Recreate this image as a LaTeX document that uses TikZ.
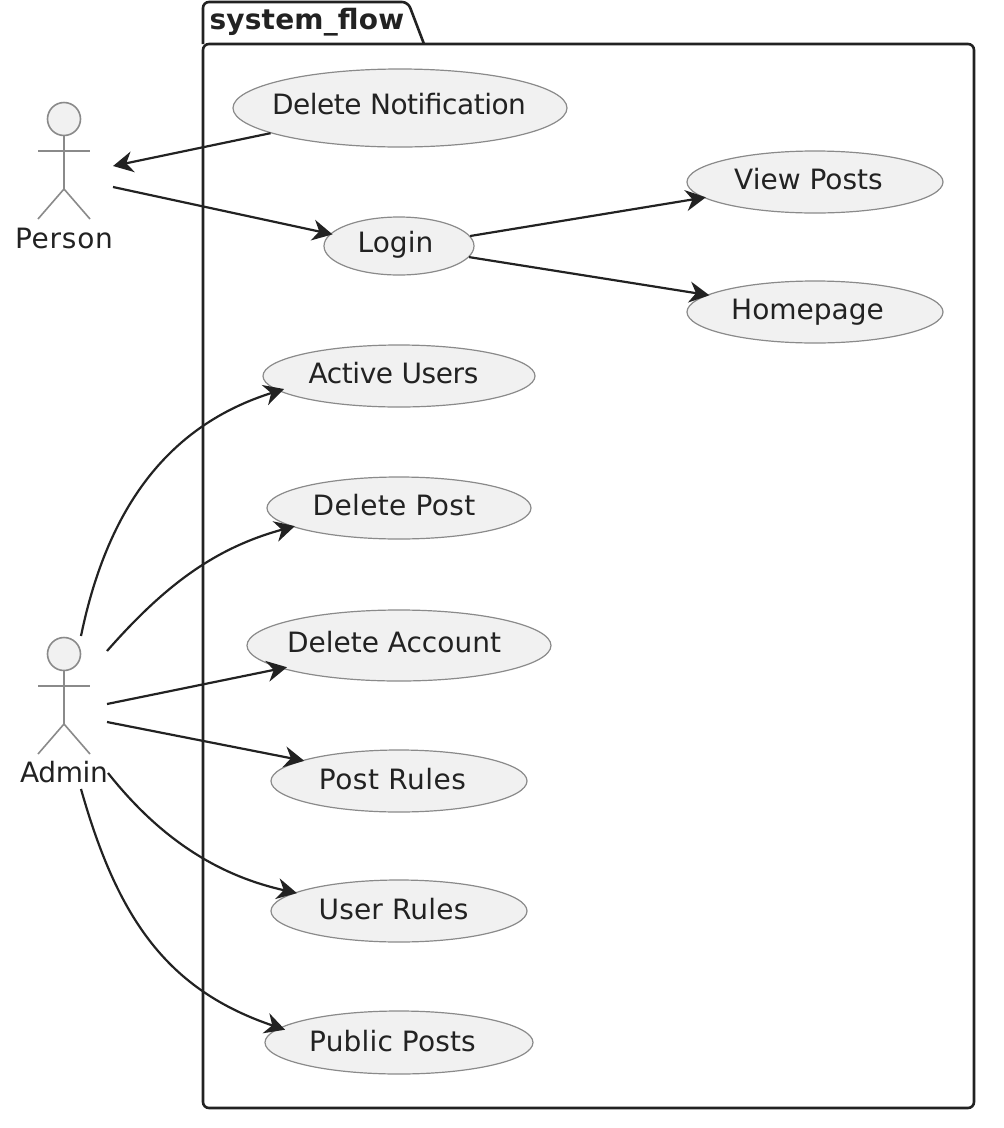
\documentclass[tikz,border=0pt]{standalone}
\usepackage{fontspec}
\setmainfont{DejaVu Sans}
\usetikzlibrary{arrows.meta,shapes.geometric}
\definecolor{inkdark}{HTML}{222222}
\definecolor{usefill}{HTML}{F1F1F1}
\definecolor{usedraw}{HTML}{8A8A8A}
% sideways and upward nudge of a text inside its node, with letter spacing
\newcommand{\nudge}[4]{\raisebox{#2}{\kern#1\relax{\addfontfeature{LetterSpace=#3}#4}\kern-#1\relax}}
\begin{document}
\begin{tikzpicture}[x=1pt,y=-1pt,
	every node/.style={font=\fontsize{28}{34}\selectfont, text=inkdark},
	usecase/.style={ellipse, draw=usedraw, fill=usefill, line width=1.2pt, inner sep=-10pt, text height=20pt, text depth=6pt},
	link/.style={draw=inkdark, line width=2.2pt, shorten >=-2.5pt, -{Stealth[length=20pt,width=21pt,inset=6.5pt]}},
	figure/.style={draw=usedraw, line width=1.6pt}]
	\useasboundingbox (0,0) rectangle (1004,1128);
	% package frame and tab
	\draw[inkdark, line width=2.6pt, rounded corners=6pt] (203,44) -- (203,2) -- (408,2) -- (424,44);
	\draw[inkdark, line width=2.6pt, rounded corners=6pt] (203,44) -- (974,44) -- (974,1108) -- (203,1108) -- cycle;
	\node[font=\fontsize{28}{34}\selectfont\bfseries, anchor=west] (flow) at (206,22) {\nudge{0pt}{0pt}{0.7}{system\_flow}};
	% actors
	\foreach \ay/\an in {119/person,654/admin}
	{
		\draw[figure, fill=usefill] (64,\ay) circle (16.5);
		\draw[figure] (64,\ay+16.5) -- (64,\ay+70);
		\draw[figure] (38,\ay+32) -- (90,\ay+32);
		\draw[figure] (38,\ay+100) -- (64,\ay+70) -- (90,\ay+100);
	}
	\node (person) at (64,238) {\nudge{0pt}{0pt}{2.7}{Person}};
	\node (admin) at (64,772) {\nudge{0pt}{0pt}{-1.4}{Admin}};
	% use cases
	\node[usecase, minimum width=334pt, minimum height=78pt] (notification) at (400,108) {\nudge{-1pt}{1pt}{-1.7}{Delete Notification}};
	\node[usecase, minimum width=150pt, minimum height=58pt] (login) at (399,246) {\nudge{-3.5pt}{1pt}{0}{Login}};
	\node[usecase, minimum width=256pt, minimum height=62pt] (viewposts) at (815,182) {\nudge{-6.5pt}{0pt}{0}{View Posts}};
	\node[usecase, minimum width=256pt, minimum height=62pt] (homepage) at (815,312) {\nudge{-7.5pt}{0pt}{0}{Homepage}};
	\node[usecase, minimum width=272pt, minimum height=62pt] (activeusers) at (399,376) {\nudge{-5.5pt}{0pt}{-1.5}{Active Users}};
	\node[usecase, minimum width=264pt, minimum height=62pt] (deletepost) at (399,508) {\nudge{-5pt}{-0.7pt}{1.3}{Delete Post}};
	\node[usecase, minimum width=304pt, minimum height=71pt] (deleteaccount) at (399,645.5) {\nudge{-5pt}{0pt}{0}{Delete Account}};
	\node[usecase, minimum width=256pt, minimum height=62pt] (postrules) at (399,781) {\nudge{-6.5pt}{-1pt}{1.8}{Post Rules}};
	\node[usecase, minimum width=256pt, minimum height=62pt] (userrules) at (399,911) {\nudge{-5.5pt}{-1pt}{0.7}{User Rules}};
	\node[usecase, minimum width=268pt, minimum height=63pt] (publicposts) at (399,1042.5) {\nudge{-6.5pt}{-2pt}{0.6}{Public Posts}};
	% free ends next to the actors
	\coordinate (personin) at (115.5,165.5);
	\coordinate (personout) at (113,187);
	\coordinate (adminA) at (81,636);
	\coordinate (adminB) at (107,651);
	\coordinate (adminC) at (107,704);
	\coordinate (adminD) at (107,722);
	\coordinate (adminE) at (108,773);
	\coordinate (adminF) at (81,789);
	% connectors
	\draw[link] (notification.191) -- (personin);
	\draw[link] (personout) -- (login.170);
	\draw[link] (login.8) -- (viewposts.188.4);
	\draw[link] (login.-9.7) -- (homepage.171.5);
	\draw[link, shorten >=-6pt] (adminA) .. controls (108,505) and (170,425) .. (activeusers.187.5);
	\draw[link] (adminB) .. controls (165,585) and (215,548) .. (deletepost.190.4);
	\draw[link, shorten >=-6pt] (adminC) -- (deleteaccount.191);
	\draw[link] (adminD) -- (postrules.168.6);
	\draw[link] (adminE) .. controls (165,845) and (225,877) .. (userrules.170);
	\draw[link, shorten >=-6pt] (adminF) .. controls (118,920) and (168,990) .. (publicposts.173);
\end{tikzpicture}
\end{document}
